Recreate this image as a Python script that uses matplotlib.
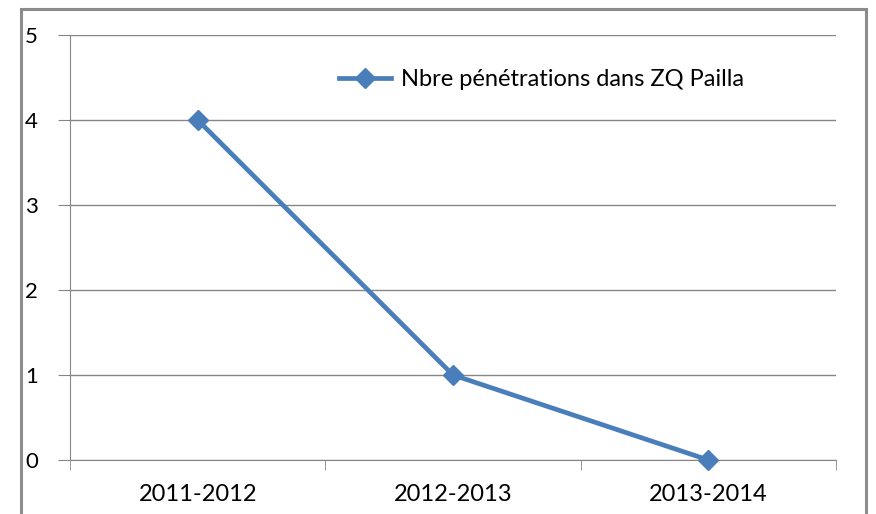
import matplotlib.pyplot as plt
from matplotlib.patches import Rectangle

### chart data
seasons = ['2011-2012', '2012-2013', '2013-2014']
penetrations = [4, 1, 0]
series_label = 'Nbre pénétrations dans ZQ Pailla'
y_ticks = [0, 1, 2, 3, 4, 5]

plt.rcParams['font.family'] = ['Lato', 'DejaVu Sans']

fig = plt.figure(figsize=(8.76, 5.14), dpi=100)

### outer chart border
fig.patches.append(Rectangle((21 / 876, -0.05), (866 - 21) / 876, 1.05 - 9 / 514,
                             transform=fig.transFigure, fill=False,
                             edgecolor='#8c8c8c', linewidth=2.2))

ax = fig.add_axes([70 / 876, 1 - 460 / 514, (836 - 70) / 876, (460 - 35) / 514])

x = list(range(len(seasons)))
ax.plot(x, penetrations, color='#4A7EBB', linewidth=3.4, marker='D',
        markersize=10.5, label=series_label, clip_on=False, zorder=3)

ax.set_xlim(-0.5, len(seasons) - 0.5)
ax.set_ylim(0, 5)
ax.set_yticks(y_ticks)
ax.set_xticks(x)
ax.set_xticklabels(seasons)
ax.set_xticks([i - 0.5 for i in range(len(seasons) + 1)], minor=True)

ax.grid(axis='y', color='#868686', linewidth=1)
ax.set_axisbelow(True)
for side in ['top', 'right']:
    ax.spines[side].set_visible(False)
for side in ['left', 'bottom']:
    ax.spines[side].set_color('#868686')

ax.tick_params(axis='y', length=9, color='#868686', labelsize=16, pad=14)
ax.tick_params(axis='x', which='major', length=0, labelsize=17, pad=17)
ax.tick_params(axis='x', which='minor', length=7, color='#868686')

ax.legend(loc='center left', bbox_to_anchor=(318 / 876, 1 - 80 / 514),
          bbox_transform=fig.transFigure, frameon=False, fontsize=17,
          handlelength=2.2, handletextpad=0.4)

fig.savefig('out.png', dpi=100)
